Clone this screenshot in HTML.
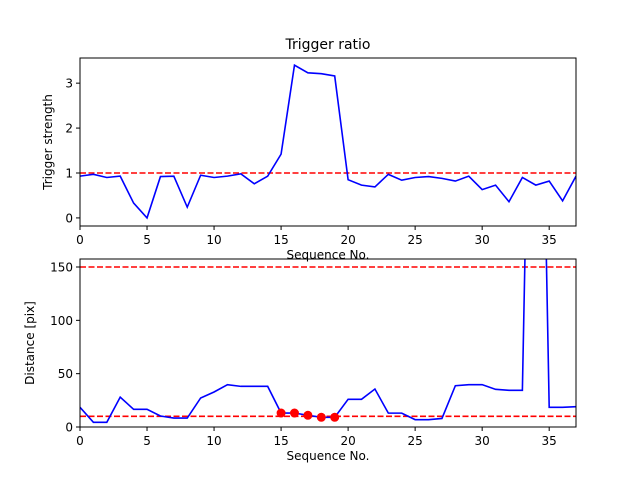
<!DOCTYPE html>
<html><head><meta charset="utf-8"><style>body{margin:0;background:#fff}svg{display:block;font-family:"DejaVu Sans","Liberation Sans",sans-serif}</style></head>
<body>
<svg id="fig" width="640" height="480" viewBox="0 0 640 480" xmlns="http://www.w3.org/2000/svg">
<defs>
<clipPath id="c1"><rect x="80" y="58" width="496" height="168"/></clipPath>
<clipPath id="c2"><rect x="80" y="259" width="496" height="168"/></clipPath>
</defs>
<rect width="640" height="480" fill="#fff"/>
<g id="g1"></g>
<g id="g2"></g>
</svg>
<script>
const seq = Array.from({length:38},(_, i)=>i);
const triggerValues = [0.93,0.97,0.90,0.93,0.33,0.0,0.92,0.93,0.24,0.95,0.90,0.93,0.98,0.76,0.93,1.42,3.40,3.23,3.21,3.16,0.85,0.73,0.69,0.97,0.84,0.90,0.92,0.88,0.82,0.93,0.63,0.73,0.36,0.90,0.73,0.82,0.38,0.93];
const triggerThreshold = 1.0;
const distanceValues = [18.5,4.4,4.4,28,16.6,16.6,10.3,8.4,8.4,27.2,32.8,39.7,38.1,38.1,38.1,13.1,13.1,11,9.1,9.1,26,26,35.6,13,13,6.9,6.9,8,38.7,39.7,39.7,35.3,34.4,34.4,680,18.5,18.5,19];
const distanceThresholds = [10,150];
const markedIdx = [15,16,17,18,19];
const xTicks = [0,5,10,15,20,25,30,35];
const yTicks1 = [0,1,2,3];
const yTicks2 = [0,50,100,150];

const NS="http://www.w3.org/2000/svg";
function mk(p,t,a){const e=document.createElementNS(NS,t);for(const k in a)e.setAttribute(k,a[k]);p.appendChild(e);return e;}
const L=80,R=576;
const xs=v=>L+(v-0)/(37-0)*(R-L);
function panel(g,top,bot,ymin,ymax,vals,thr,yt,ylabel,clip,title){
  const ys=v=>bot-(v-ymin)/(ymax-ymin)*(bot-top);
  thr.forEach(t=>{const l=mk(g,'line',{x1:L,x2:R,y1:ys(t),y2:ys(t),stroke:'#ff0000','stroke-width':1.6,'stroke-dasharray':'6,2.5','clip-path':clip});
    });
  const pl=mk(g,'polyline',{points:vals.map((v,i)=>xs(seq[i])+','+ys(v)).join(' '),fill:'none',stroke:'#0000ff','stroke-width':1.6,'clip-path':clip});
  
  const fr=mk(g,'rect',{x:L,y:top,width:R-L,height:bot-top,fill:'none',stroke:'#000','stroke-width':1});
  
  xTicks.forEach(t=>{mk(g,'line',{x1:xs(t),x2:xs(t),y1:bot,y2:bot+4,stroke:'#000'});
    const tx=mk(g,'text',{x:xs(t),y:bot+18,'text-anchor':'middle','font-size':12});tx.textContent=t;
    });
  yt.forEach(t=>{mk(g,'line',{x1:L-4,x2:L,y1:ys(t),y2:ys(t),stroke:'#000'});
    const tx=mk(g,'text',{x:L-7,y:ys(t)+4.5,'text-anchor':'end','font-size':12});tx.textContent=t;
    });
  const xl=mk(g,'text',{x:(L+R)/2,y:bot+33,'text-anchor':'middle','font-size':12});xl.textContent='Sequence No.';
  
  const yl=mk(g,'text',{x:0,y:0,'text-anchor':'middle','font-size':12,transform:`translate(${ylabel[1]},${(top+bot)/2}) rotate(-90)`});yl.textContent=ylabel[0];
  
  if(title){const tt=mk(g,'text',{x:(L+R)/2,y:top-9,'text-anchor':'middle','font-size':14});tt.textContent=title;
    }
  return ys;
}
const g1=document.getElementById('g1'),g2=document.getElementById('g2');
panel(g1,58,226,-0.18,3.56,triggerValues,[triggerThreshold],yTicks1,['Trigger strength',52],'url(#c1)','Trigger ratio');
const ys2=panel(g2,259,427,0,157.5,distanceValues,distanceThresholds,yTicks2,['Distance [pix]',34],'url(#c2)',null);
markedIdx.forEach(i=>{const c=mk(g2,'circle',{cx:xs(seq[i]),cy:ys2(distanceValues[i]),r:4.5,fill:'#ff0000','clip-path':'url(#c2)'});
  });
</script>
</body></html>
